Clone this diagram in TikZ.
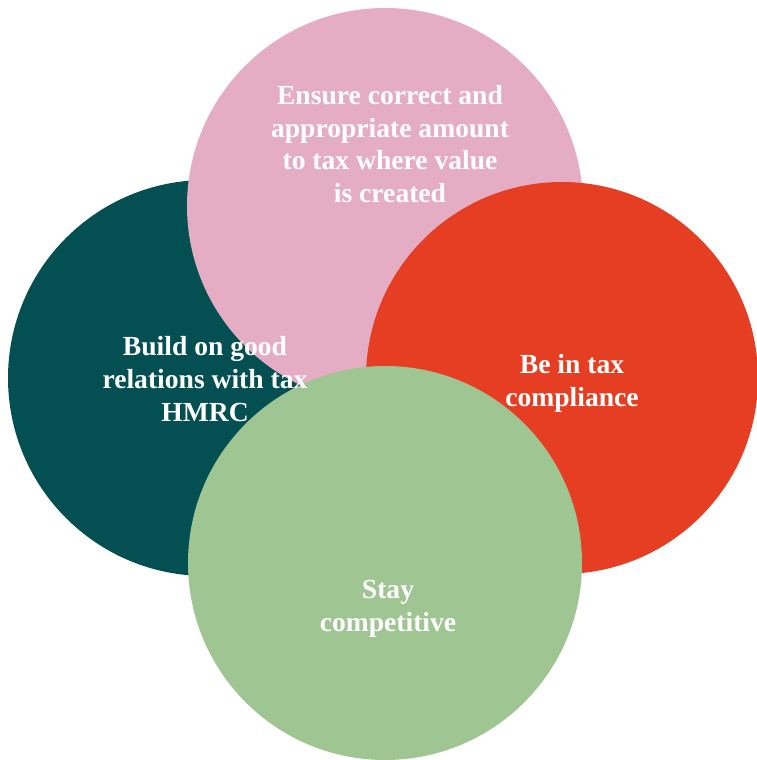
\documentclass[tikz,border=0pt]{standalone}
\usepackage{fontspec}
\setmainfont{Liberation Serif}
\definecolor{cteal}{HTML}{034F52}
\definecolor{cpink}{HTML}{E5ADC4}
\definecolor{cred}{HTML}{E63E22}
\definecolor{cgreen}{HTML}{9FC592}
\tikzset{
  blob/.style={circle, inner sep=0pt, outer sep=0pt},
  label/.style={text=white, font=\fontsize{27.6}{32.8}\selectfont\bfseries, align=center, inner sep=0pt}
}
\begin{document}
\begin{tikzpicture}[x=1pt,y=1pt]
\useasboundingbox (0,0) rectangle (757,760);
\fill[cteal] (206,382) circle (198);
\node[blob] (teal) at (206,382) {};
\fill[cpink] (385,554) circle (198);
\node[blob] (pink) at (385,554) {};
\fill[cred] (562,382) circle (196);
\node[blob] (red) at (562,382) {};
\fill[cgreen] (385,197) circle (197);
\node[blob] (green) at (385,197) {};
\node[label] (tpink) at (390,616) {Ensure correct and\\appropriate amount\\to tax where value\\is created};
\node[label] (tteal) at (205,381) {Build on good\\relations with tax\\HMRC};
\node[label] (tred) at (572,377) {Be in tax\\compliance};
\node[label] (tgreen) at (388,151) {Stay\\competitive};
\end{tikzpicture}
\end{document}
